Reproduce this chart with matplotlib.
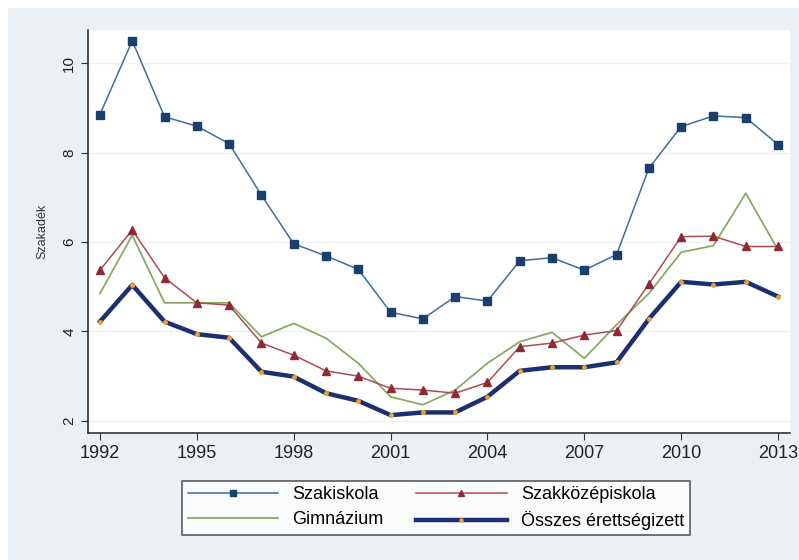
import numpy as np
import matplotlib
matplotlib.use("Agg")
from matplotlib import pyplot as plt
from matplotlib.patches import Rectangle

years = list(range(1992, 2014))
szakiskola = [8.85, 10.5, 8.8, 8.59, 8.2, 7.05, 5.96, 5.69, 5.39, 4.43, 4.28,
              4.78, 4.68, 5.58, 5.65, 5.37, 5.72, 7.65, 8.58, 8.82, 8.78, 8.18]
szakkozep = [5.37, 6.27, 5.2, 4.64, 4.59, 3.74, 3.47, 3.12, 3.0, 2.73, 2.69,
             2.62, 2.86, 3.66, 3.74, 3.92, 4.02, 5.06, 6.12, 6.13, 5.9, 5.9]
gimnazium = [4.85, 6.15, 4.64, 4.64, 4.64, 3.88, 4.18, 3.85, 3.29, 2.54, 2.36,
             2.69, 3.29, 3.77, 3.98, 3.4, 4.15, 4.85, 5.77, 5.92, 7.09, 5.82]
osszes = [4.22, 5.04, 4.22, 3.94, 3.86, 3.1, 2.99, 2.62, 2.45, 2.13, 2.19,
          2.19, 2.54, 3.12, 3.2, 3.2, 3.31, 4.28, 5.11, 5.05, 5.11, 4.78]
xticks = [1992, 1995, 1998, 2001, 2004, 2007, 2010, 2013]
yticks = [2, 4, 6, 8, 10]

plt.rcParams['font.family'] = ['Liberation Sans', 'DejaVu Sans']
fig = plt.figure(figsize=(7.99, 5.6), dpi=100)
fig.patch.set_facecolor('white')
fig.patches.append(Rectangle((8/799, 0), 1, 1 - 8/560, transform=fig.transFigure,
                             facecolor='#eaf0f3', edgecolor='none', zorder=-10))

ax = fig.add_axes([88/799, 127/560, 702/799, 403/560])
ax.set_facecolor('white')

ax.plot(years, szakiskola, color='#3f6e9e', lw=1.1, marker='s', ms=5.5,
        mfc='#1a3f6c', mec='#1a3f6c', label='Szakiskola', zorder=4)
ax.plot(years, szakkozep, color='#b04a52', lw=1.1, marker='^', ms=5.5,
        mfc='#8f2a33', mec='#8f2a33', label='Szakközépiskola', zorder=3)
ax.plot(years, gimnazium, color='#8aaa64', lw=1.3, label='Gimnázium', zorder=2)
ax.plot(years, osszes, color='#1c2f70', lw=3.2, marker='o', ms=2.5,
        mfc='#f0a030', mec='#f0a030', label='Összes érettségizett', zorder=5)

ax.set_xlim(1991.63, 2013.37)
ax.set_ylim(1.73, 10.74)
ax.set_xticks(xticks)
ax.set_yticks(yticks)
ax.set_yticklabels([str(v) for v in yticks], rotation=90, va='center')
ax.tick_params(axis='x', labelsize=13)
ax.tick_params(axis='y', labelsize=11)
ax.tick_params(axis='both', color='#333333', length=5, labelcolor='#222222')
ax.grid(axis='y', color='#eef2f4', lw=1)
ax.set_axisbelow(True)
for s in ['top', 'right']:
    ax.spines[s].set_visible(False)
for s in ['left', 'bottom']:
    ax.spines[s].set_color('#333333')
    ax.spines[s].set_linewidth(1.2)
ax.set_ylabel('Szakadék', fontsize=9, color='#333333', labelpad=10)

h, l = ax.get_legend_handles_labels()
order = [0, 2, 1, 3]
leg = fig.legend([h[i] for i in order], [l[i] for i in order], ncol=2,
                 loc='center', bbox_to_anchor=(436/799, 1 - 508/560),
                 frameon=True, fancybox=False, fontsize=13, handlelength=5.0,
                 markerscale=0.9, columnspacing=1.8, labelspacing=0.45,
                 borderpad=0.3)
leg.get_frame().set_edgecolor('#333333')
leg.get_frame().set_linewidth(1.2)

fig.savefig('out.png', dpi=100)
